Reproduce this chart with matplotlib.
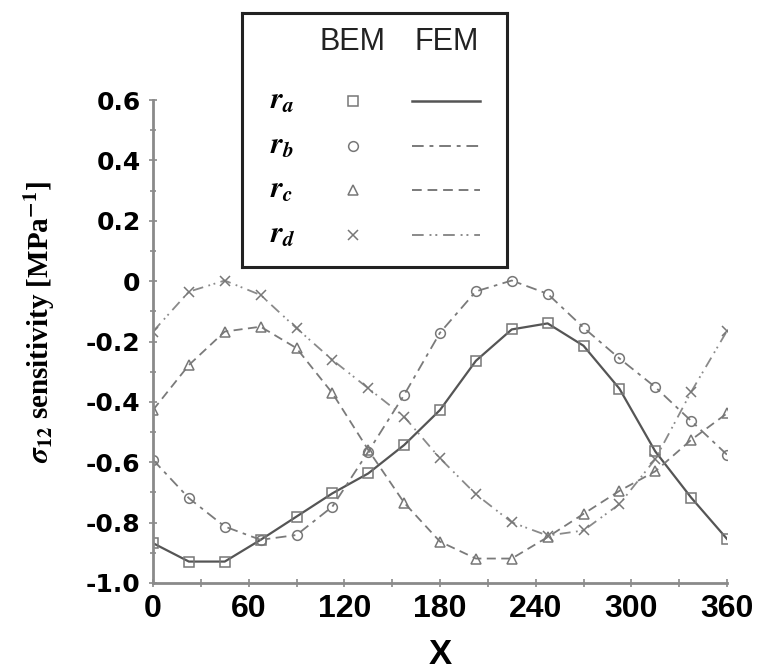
import matplotlib
matplotlib.use("Agg")
import matplotlib.pyplot as plt
import numpy as np
from matplotlib.ticker import MultipleLocator

# angle positions (BEM sample points every 22.5 deg)
x = np.arange(0, 360.1, 22.5)

ra = [-0.868, -0.929, -0.929, -0.857, -0.780, -0.703, -0.637, -0.543, -0.427,
      -0.264, -0.160, -0.140, -0.214, -0.356, -0.564, -0.717, -0.854]
rb = [-0.592, -0.719, -0.813, -0.857, -0.841, -0.747, -0.565, -0.377, -0.171,
      -0.034, 0.002, -0.042, -0.154, -0.256, -0.351, -0.463, -0.575]
rc = [-0.427, -0.278, -0.167, -0.151, -0.222, -0.371, -0.559, -0.734, -0.863,
      -0.919, -0.919, -0.848, -0.771, -0.695, -0.630, -0.526, -0.438]
rd = [-0.167, -0.035, 0.002, -0.046, -0.156, -0.261, -0.355, -0.449, -0.587,
      -0.706, -0.799, -0.843, -0.826, -0.739, -0.590, -0.367, -0.165]

series = [ra, rb, rc, rd]
names = [r'$\boldsymbol{r}_{\boldsymbol{a}}$', r'$\boldsymbol{r}_{\boldsymbol{b}}$',
         r'$\boldsymbol{r}_{\boldsymbol{c}}$', r'$\boldsymbol{r}_{\boldsymbol{d}}$']
markers = ['s', 'o', '^', 'x']
styles = ['-', (0, (6, 3, 2, 3)), (0, (5, 3)), (0, (6, 3, 1, 2, 1, 3))]
lcolors = ['#555555', '#7a7a7a', '#7a7a7a', '#8a8a8a']

plt.rcParams['font.family'] = ['DejaVu Sans']
plt.rcParams['mathtext.fontset'] = 'stix'

fig = plt.figure(figsize=(7.67, 6.72), dpi=100)
ax = fig.add_axes([153/767, 1-583/672, 574/767, 483/672])

for ys, m, ls, c in zip(series, markers, styles, lcolors):
    ax.plot(x, ys, linestyle=ls, color=c, lw=1.6 if ls == '-' else 1.3)
    ax.plot(x, ys, linestyle='none', marker=m, ms=7, mfc='none',
            mec='#777777', mew=1.1)

ax.set_xlim(0, 360)
ax.set_ylim(-1.0, 0.6)
ax.xaxis.set_major_locator(MultipleLocator(30))
ax.yaxis.set_major_locator(MultipleLocator(0.2))
ax.yaxis.set_minor_locator(MultipleLocator(0.1))
ax.set_xticklabels([str(int(v)) if v % 60 == 0 else '' for v in ax.get_xticks()])
ylabs = []
for v in ax.get_yticks():
    if abs(v) < 1e-9:
        ylabs.append('0')
    else:
        ylabs.append('%.1f' % v)
ax.set_yticklabels(ylabs)
for s in ['top', 'right']:
    ax.spines[s].set_visible(False)
for s in ['left', 'bottom']:
    ax.spines[s].set_color('#8a8a8a')
    ax.spines[s].set_linewidth(2)
ax.tick_params(which='both', direction='inout', color='#8a8a8a', width=1.2)
ax.tick_params(which='major', length=6)
ax.tick_params(which='minor', length=4)
ax.tick_params(axis='y', which='major', labelsize=18, pad=6)
ax.tick_params(axis='x', which='major', labelsize=23, pad=5)
for lab in ax.get_yticklabels():
    lab.set_fontweight('bold')
for lab in ax.get_xticklabels():
    lab.set_fontweight('bold')
    lab.set_family(['Liberation Sans', 'DejaVu Sans'])

fig.text(440/767, 1-654/672, 'X', ha='center', va='center', fontsize=25,
         fontweight='bold', family=['Liberation Sans', 'DejaVu Sans'])
fig.text(40/767, 1-322/672, r'$\boldsymbol{\sigma}_{\mathbf{12}}$ sensitivity [MPa$^{\mathbf{-1}}$]',
         rotation=90, ha='center', va='center', fontsize=21, fontweight='bold',
         family=['Liberation Serif', 'DejaVu Serif'])

# legend box drawn as a small axes
lg = fig.add_axes([242/767, 1-267/672, 265/767, 254/672])
lg.set_xlim(0, 265)
lg.set_ylim(254, 0)
lg.set_xticks([])
lg.set_yticks([])
for s in lg.spines.values():
    s.set_linewidth(2.2)
    s.set_color('#222222')
lg.text(110, 29, 'BEM', ha='center', va='center', fontsize=22,
        family=['Liberation Sans', 'DejaVu Sans'], color='#222222')
lg.text(205, 29, 'FEM', ha='center', va='center', fontsize=22,
        family=['Liberation Sans', 'DejaVu Sans'], color='#222222')
for i, (nm, m, ls, c) in enumerate(zip(names, markers, styles, lcolors)):
    yy = 88 + i * 44.5
    lg.text(28, yy, nm, ha='left', va='center', fontsize=22)
    lg.plot([111], [yy], marker=m, ms=7, mfc='none', mec='#777777', mew=1.1)
    lg.plot([170, 238], [yy, yy], linestyle=ls, color=c, lw=1.8 if ls == '-' else 1.4)

fig.savefig('out.png', dpi=100)
